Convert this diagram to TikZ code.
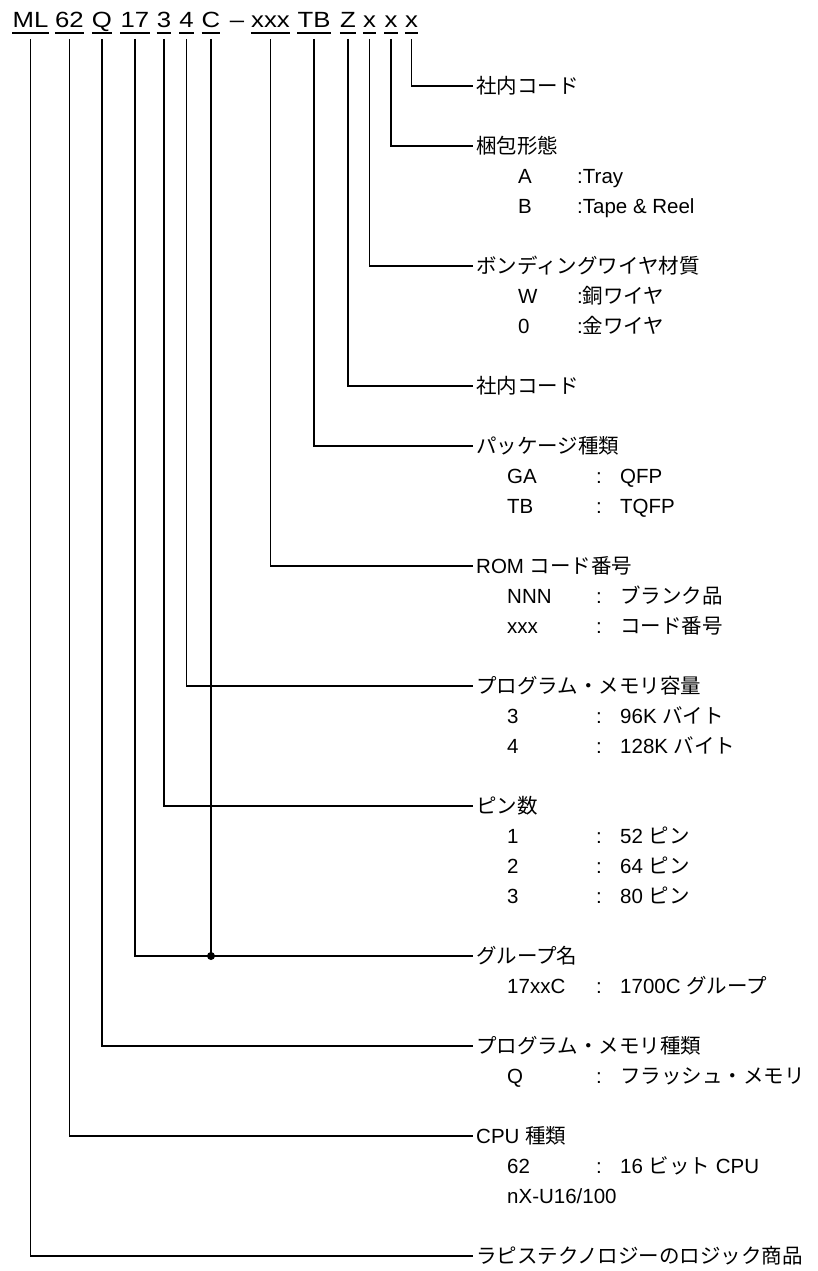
\documentclass[tikz,border=0pt]{standalone}
\usepackage{fontspec}
\setmainfont{Liberation Sans}
\newfontfamily\jp{Noto Sans CJK JP}
\newfontfamily\topfont[FakeStretch=1.17]{Liberation Sans}
\begin{document}
\begin{tikzpicture}[x=1pt,y=-1pt,
  conn/.style={line width=1.3pt},
  uline/.style={line width=1.3pt},
  head/.style={anchor=west, inner xsep=3pt, inner ysep=0pt, text height=18pt, text depth=3pt, font=\fontsize{20.5}{24}\selectfont},
  rowtxt/.style={anchor=base west, inner sep=0pt, font=\fontsize{20.5}{24}\selectfont},
  topitem/.style={anchor=base, inner sep=0pt, font=\topfont\fontsize{22}{26}\selectfont}]
\useasboundingbox (0,0) rectangle (818,1271);
% top code
\node[topitem] (ml) at (30.5,28) {ML};
\node[topitem] (c62) at (69.5,28) {62};
\node[topitem] (q) at (102,28) {Q};
\node[topitem] (n17) at (135,28) {17};
\node[topitem] (n3) at (164,28) {3};
\node[topitem] (n4) at (186.5,28) {4};
\node[topitem] (c) at (211,28) {C};
\node[topitem] (dash) at (237,28) {–};
\node[topitem] (xxx) at (270.5,28) {xxx};
\node[topitem] (tb) at (314,28) {TB};
\node[topitem] (z) at (348,28) {Z};
\node[topitem] (x1) at (369.5,28) {x};
\node[topitem] (x2) at (391,28) {x};
\node[topitem] (x3) at (411.5,28) {x};
\coordinate (uy) at (0,33);
\coordinate (vt) at (0,39);
\foreach \n in {ml,c62,q,n17,n3,n4,c,xxx,tb,z,x1,x2,x3}
  \draw[uline] (\n.west |- uy) -- (\n.east |- uy);
% headers
\node[head] (h1) at (473,86) {\jp 社内コード};
\node[head] (h2) at (473,146) {\jp 梱包形態};
\node[head] (h3) at (473,266) {\jp ボンディングワイヤ材質};
\node[head] (h4) at (473,386) {\jp 社内コード};
\node[head] (h5) at (473,446) {\jp パッケージ種類};
\node[head] (h6) at (473,566) {ROM {\jp コード番号}};
\node[head] (h7) at (473,686) {\jp プログラム・メモリ容量};
\node[head] (h8) at (473,806) {\jp ピン数};
\node[head] (h9) at (473,956) {\jp グループ名};
\node[head] (h10) at (473,1046) {\jp プログラム・メモリ種類};
\node[head] (h11) at (473,1136) {CPU {\jp 種類}};
\node[head] (h12) at (473,1256) {\jp ラピステクノロジーのロジック商品};
% connectors
\draw[conn] (x3 |- vt) |- (h1.west);
\draw[conn] (x2 |- vt) |- (h2.west);
\draw[conn] (x1 |- vt) |- (h3.west);
\draw[conn] (z |- vt) |- (h4.west);
\draw[conn] (tb |- vt) |- (h5.west);
\draw[conn] (xxx |- vt) |- (h6.west);
\draw[conn] (n4 |- vt) |- (h7.west);
\draw[conn] (n3 |- vt) |- (h8.west);
\draw[conn] (n17 |- vt) |- (h9.west);
\draw[conn] (c |- vt) -- (c |- h9.west);
\fill (c |- h9.west) circle (4);
\draw[conn] (q |- vt) |- (h10.west);
\draw[conn] (c62 |- vt) |- (h11.west);
\draw[conn] (ml |- vt) |- (h12.west);
% rows: packing
\node[rowtxt] (r1k) at (518,183.5) {A};
\node[rowtxt] (r1v) at (577,183.5) {:Tray};
\node[rowtxt] (r2k) at (518,213.5) {B};
\node[rowtxt] (r2v) at (577,213.5) {:Tape \& Reel};
\node[rowtxt] (r3k) at (518,303.5) {W};
\node[rowtxt] (r3v) at (577,303.5) {:{\jp 銅ワイヤ}};
\node[rowtxt] (r4k) at (518,333.5) {0};
\node[rowtxt] (r4v) at (577,333.5) {:{\jp 金ワイヤ}};
% package
\node[rowtxt] (r5k) at (507,483.5) {GA};
\node[rowtxt] (r5c) at (596,483.5) {:};
\node[rowtxt] (r5v) at (620,483.5) {QFP};
\node[rowtxt] (r6k) at (507,513.5) {TB};
\node[rowtxt] (r6c) at (596,513.5) {:};
\node[rowtxt] (r6v) at (620,513.5) {TQFP};
% ROM
\node[rowtxt] (r7k) at (507,603.5) {NNN};
\node[rowtxt] (r7c) at (596,603.5) {:};
\node[rowtxt] (r7v) at (620,603.5) {\jp ブランク品};
\node[rowtxt] (r8k) at (507,633.5) {xxx};
\node[rowtxt] (r8c) at (596,633.5) {:};
\node[rowtxt] (r8v) at (620,633.5) {\jp コード番号};
% memory size
\node[rowtxt] (r9k) at (507,723.5) {3};
\node[rowtxt] (r9c) at (596,723.5) {:};
\node[rowtxt] (r9v) at (620,723.5) {96K {\jp バイト}};
\node[rowtxt] (r10k) at (507,753.5) {4};
\node[rowtxt] (r10c) at (596,753.5) {:};
\node[rowtxt] (r10v) at (620,753.5) {128K {\jp バイト}};
% pins
\node[rowtxt] (r11k) at (507,843.5) {1};
\node[rowtxt] (r11c) at (596,843.5) {:};
\node[rowtxt] (r11v) at (620,843.5) {52 {\jp ピン}};
\node[rowtxt] (r12k) at (507,873.5) {2};
\node[rowtxt] (r12c) at (596,873.5) {:};
\node[rowtxt] (r12v) at (620,873.5) {64 {\jp ピン}};
\node[rowtxt] (r13k) at (507,903.5) {3};
\node[rowtxt] (r13c) at (596,903.5) {:};
\node[rowtxt] (r13v) at (620,903.5) {80 {\jp ピン}};
% group
\node[rowtxt] (r14k) at (507,993.5) {17xxC};
\node[rowtxt] (r14c) at (596,993.5) {:};
\node[rowtxt] (r14v) at (620,993.5) {1700C {\jp グループ}};
% memory type
\node[rowtxt] (r15k) at (507,1083.5) {Q};
\node[rowtxt] (r15c) at (596,1083.5) {:};
\node[rowtxt] (r15v) at (620,1083.5) {\jp フラッシュ・メモリ};
% CPU
\node[rowtxt] (r16k) at (507,1173.5) {62};
\node[rowtxt] (r16c) at (596,1173.5) {:};
\node[rowtxt] (r16v) at (620,1173.5) {16 {\jp ビット} CPU};
\node[rowtxt] (r17k) at (507,1203.5) {nX-U16/100};
\end{tikzpicture}
\end{document}
